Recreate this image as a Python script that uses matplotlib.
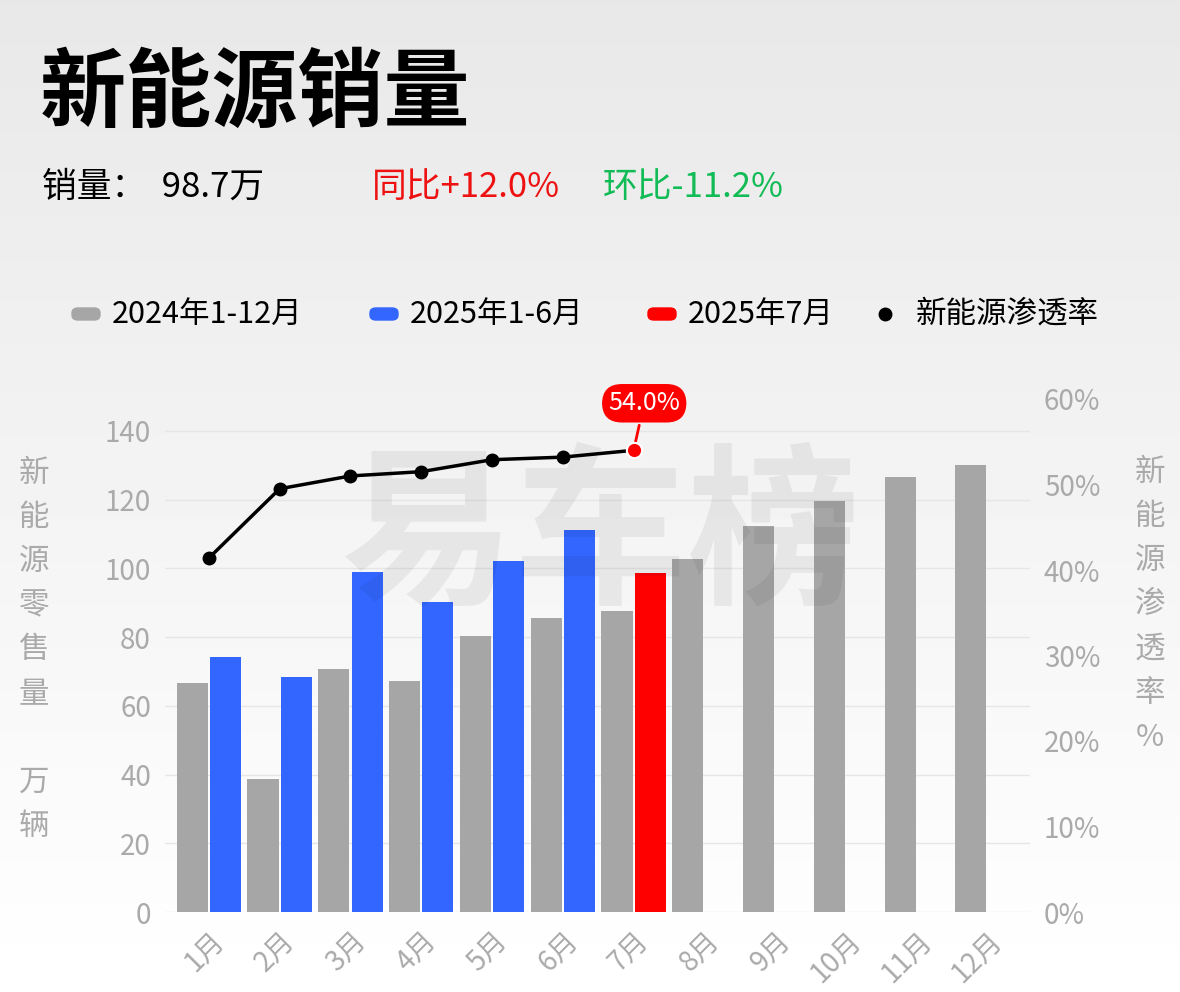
import matplotlib
matplotlib.use("Agg")
import matplotlib.pyplot as plt
import numpy as np

plt.rcParams['font.family'] = ['Noto Sans CJK SC', 'DejaVu Sans']

months = ['1月','2月','3月','4月','5月','6月','7月','8月','9月','10月','11月','12月']
sales_2024 = [66.6, 38.7, 70.7, 67.2, 80.3, 85.6, 87.6, 102.7, 112.3, 119.6, 126.6, 130.1]
sales_2025 = [74.2, 68.4, 99.0, 90.2, 102.2, 111.2, 98.7]
penetration = [41.4, 49.5, 51.0, 51.5, 52.9, 53.2, 54.0]

W, H = 1180, 992
fig = plt.figure(figsize=(W/100, H/100), dpi=100)
bg = fig.add_axes([0, 0, 1, 1], zorder=-10)
grad = np.linspace(0.91, 1.0, 256).reshape(-1, 1)
bg.imshow(grad, cmap='gray', vmin=0, vmax=1, aspect='auto', extent=[0, 1, 0, 1])
bg.axis('off')

fig.text(40/W, 1-95/H, '新能源销量', fontsize=62, fontweight='bold', va='center')
fig.text(42/W, 1-187/H, '销量：  98.7万', fontsize=25, va='center')
fig.text(372/W, 1-187/H, '同比+12.0%', fontsize=25, va='center', color='#ee1111')
fig.text(603/W, 1-187/H, '环比-11.2%', fontsize=25, va='center', color='#11bb55')

leg = [(72, '#a6a6a6', '2024年1-12月', 'bar'), (370, '#3366ff', '2025年1-6月', 'bar'),
       (648, '#ff0000', '2025年7月', 'bar'), (876, '#000000', '新能源渗透率', 'dot')]
for x, c, t, k in leg:
    if k == 'bar':
        fig.patches.append(matplotlib.patches.FancyBboxPatch((x/W, 1-320/H), 28/W, 12/H,
                           boxstyle='round,pad=0,rounding_size=0.005', transform=fig.transFigure,
                           color=c, figure=fig))
    else:
        fig.add_artist(matplotlib.lines.Line2D([(x+9)/W], [1-314/H], marker='o', color=c,
                                               markersize=9, transform=fig.transFigure))
    fig.text((x+40)/W, 1-314/H, t, fontsize=22, va='center')

ax = fig.add_axes([165/W, 1-912/H, (1030-165)/W, (912-399)/H])
ax.patch.set_alpha(0)
x = np.arange(12)
w = 0.44
ax.bar(x - w/2 - 0.015, sales_2024, w, color='#a6a6a6', zorder=2)
cols = ['#3366ff']*6 + ['#ff0000']
ax.bar(x[:7] + w/2 + 0.015, sales_2025, w, color=cols, zorder=2)
ax.set_xlim(-0.62, 11.6)
ax.set_ylim(0, 140*513/481)
ax.set_yticks(range(0, 141, 20))
ax.grid(axis='y', color='#e6e6e6', lw=1, zorder=0)
for s in ax.spines.values():
    s.set_visible(False)
ax.tick_params(length=0, labelsize=20, colors='#aaaaaa', pad=10)
ax.set_xticks(x)
ax.set_xticklabels(months, rotation=45, ha='right', rotation_mode='anchor')

ax2 = ax.twinx()
ax2.set_ylim(0, 60)
ax2.set_yticks(range(0, 61, 10))
ax2.set_yticklabels([f'{v}%' for v in range(0, 61, 10)])
for s in ax2.spines.values():
    s.set_visible(False)
ax2.tick_params(length=0, labelsize=20, colors='#aaaaaa', pad=10)
ax2.plot(x[:7], penetration, color='black', lw=2.5, zorder=3)
ax2.plot(x[:6], penetration[:6], 'o', color='black', ms=9, zorder=4)
ax2.plot(x[6], penetration[6], 'o', color='#ff0000', ms=11, mec='white', mew=1.5, zorder=5)
ax2.annotate(f'{penetration[6]:.1f}%', (x[6], penetration[6]), xytext=(x[6]+0.15, penetration[6]+5.5),
             ha='center', va='center', fontsize=18, color='white',
             bbox=dict(boxstyle='round,pad=0.25,rounding_size=0.8', fc='#ff0000', ec='none'),
             arrowprops=dict(arrowstyle='-', color='#ff0000', lw=2))

fig.text(340/W, 1-540/H, '易车榜', fontsize=125, fontweight='black', color='#000000', alpha=0.06,
         va='center')

fig.text(34/W, 1-650/H, '新\n能\n源\n零\n售\n量\n\n万\n辆', fontsize=22, color='#aaaaaa',
         va='center', ha='center', linespacing=1.55)
fig.text(1150/W, 1-605/H, '新\n能\n源\n渗\n透\n率\n%', fontsize=22, color='#aaaaaa',
         va='center', ha='center', linespacing=1.55)

fig.savefig('out.png', dpi=100)
